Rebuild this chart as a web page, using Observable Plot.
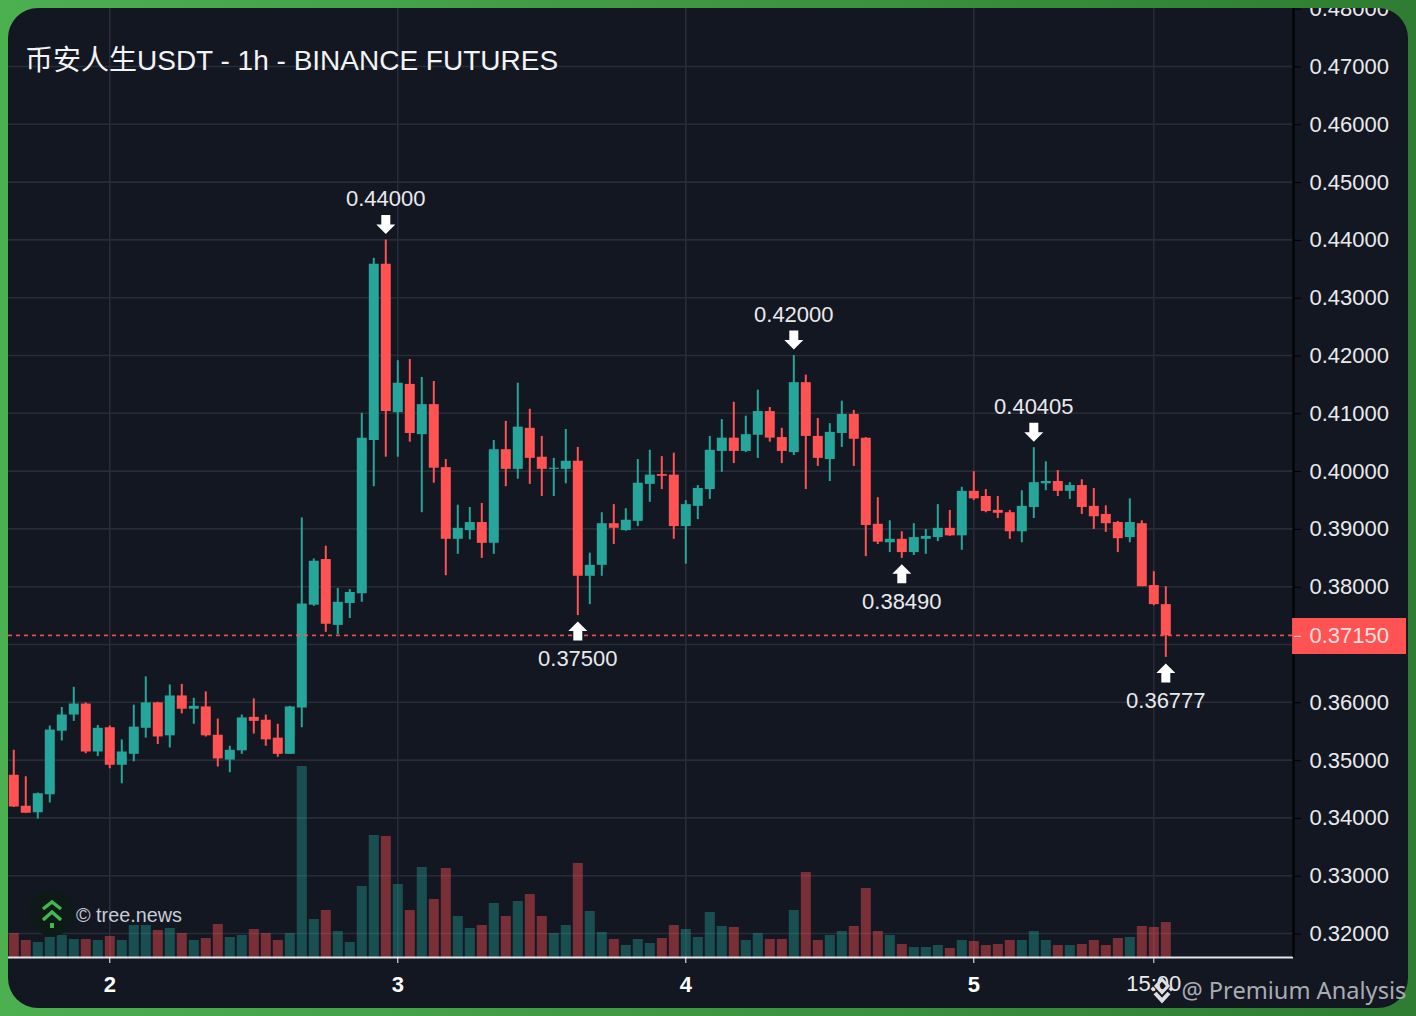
<!DOCTYPE html>
<html>
<head>
<meta charset="utf-8">
<script src="https://cdn.jsdelivr.net/npm/d3@7"></script>
<script src="https://cdn.jsdelivr.net/npm/@observablehq/plot@0.6"></script>
<style>
html,body{margin:0;padding:0;width:1416px;height:1016px;overflow:hidden;background:linear-gradient(90deg,#4caf50 0%,#3f9a43 45%,#2e7d32 100%);}
#card{position:absolute;left:8px;top:8px;width:1400px;height:1000px;background:#131722;border-radius:30px;overflow:hidden;}
#card svg.plot{position:absolute;left:0;top:0;}
.txt{position:absolute;white-space:nowrap;font-family:"Liberation Sans",sans-serif;line-height:1;}
#title{left:25px;top:47px;font-size:28px;color:#f2f3f5;font-family:"Liberation Sans","Noto Sans CJK SC",sans-serif;}
#tree{left:76px;top:906px;font-size:19.8px;color:#c9ccd3;}
#premium{left:1181.5px;top:978.5px;font-size:23.6px;color:#a9acb2;font-family:"Noto Sans",sans-serif;}
#logos{position:absolute;left:0;top:0;}
</style>
</head>
<body>
<div id="card"></div>
<div class="txt" id="title">币安人生USDT - 1h - BINANCE FUTURES</div>
<svg id="logos" width="1416" height="1016">
  <circle cx="52" cy="913" r="23" fill="#0e1a18"/>
  <g fill="none" stroke="#3fb950" stroke-width="3.4">
    <polyline points="43,909 52,902 61,909"/>
    <polyline points="43,920 52,912 61,920"/>
  </g>
  <rect x="50" y="923" width="4" height="5" fill="#3fb950"/>
  <g fill="none" stroke="#dcdee2">
    <polygon points="1162,979.5 1168,986 1162,992.5 1156,986" stroke-width="3"/>
    <polyline points="1155,993 1162,1000.5 1169,993" stroke-width="4"/>
  </g>
  <g fill="#dcdee2">
    <polygon points="1153,986.5 1155.5,989 1153,991.5 1150.5,989"/>
    <polygon points="1171,986.5 1173.5,989 1171,991.5 1168.5,989"/>
  </g>
</svg>
<div class="txt" id="tree">© tree.news</div>
<div class="txt" id="premium">@ Premium Analysis</div>
<script>
const opens = [.3474,.3420,.3409,.3440,.3550,.3578,.3597,.3514,.3556,.3491,.3510,.3555,.3599,.3542,.3611,.3588,.3592,.3543,.3500,.3516,.3574,.3569,.3538,.3510,.3590,.3768,.3847,.3733,.3771,.3788,.4053,.4358,.4101,.4150,.4063,.4115,.4006,.3882,.3897,.3911,.3875,.4037,.4003,.4074,.4024,.4003,.4003,.4017,.3818,.3837,.3909,.3897,.3913,.3977,.3994,.3993,.3904,.3939,.3968,.4034,.4057,.4034,.4062,.4103,.4058,.4032,.4153,.4060,.4020,.4065,.4098,.4057,.3908,.3876,.3882,.3859,.3882,.3885,.3901,.3888,.3965,.3956,.3932,.3928,.3895,.3937,.3978,.3982,.3965,.3975,.3939,.3925,.3911,.3885,.3909,.3802,.3769];
const highs = [.3517,.3471,.3443,.3559,.3591,.3626,.3599,.3560,.3559,.3535,.3595,.3644,.3600,.3630,.3631,.3607,.3618,.3571,.3524,.3578,.3606,.3578,.3562,.3593,.3919,.3848,.3870,.3797,.3795,.4100,.4368,.4400,.4191,.4193,.4162,.4155,.4020,.3941,.3937,.3944,.4053,.4086,.4152,.4107,.4060,.4022,.4072,.4041,.3858,.3928,.3942,.3935,.4020,.4036,.4025,.4031,.3949,.3975,.4060,.4089,.4119,.4095,.4140,.4110,.4074,.4200,.4166,.4091,.4082,.4121,.4105,.4058,.3954,.3914,.3895,.3909,.3899,.3942,.3932,.3972,.3999,.3968,.3956,.3932,.3966,.40405,.4016,.4001,.3980,.3985,.3970,.3940,.3913,.3952,.3914,.3826,.3800];
const lows = [.3418,.3408,.3398,.3426,.3533,.3567,.3511,.3506,.3485,.3459,.3497,.3538,.3527,.3521,.3580,.3562,.3540,.3488,.3478,.3510,.3545,.3524,.3505,.3510,.3556,.3766,.3721,.3717,.3745,.3773,.3973,.4024,.4024,.4050,.3928,.3979,.3819,.3856,.3881,.3849,.3856,.3973,.3986,.3977,.3956,.3956,.3978,.3750,.3769,.3818,.3873,.3896,.3904,.3946,.3968,.3882,.3839,.3916,.3951,.3998,.4013,.4032,.4022,.4050,.4013,.4027,.3968,.4008,.3982,.4041,.4008,.3852,.3873,.3859,.3849,.3854,.3856,.3878,.3887,.3863,.3949,.3928,.3918,.3882,.3876,.3918,.3966,.3956,.3951,.3925,.3899,.3894,.3859,.3876,.3800,.3767,.36777];
const closes = [.3419,.3408,.3442,.3552,.3578,.3597,.3514,.3555,.3491,.3514,.3557,.3599,.3540,.3611,.3588,.3593,.3542,.3502,.3517,.3573,.3567,.3535,.3510,.3592,.3770,.3844,.3735,.3773,.3790,.4057,.4358,.4103,.4152,.4065,.4115,.4005,.3882,.3901,.3911,.3875,.4037,.4003,.4076,.4022,.4003,.4005,.4017,.3818,.3837,.3909,.3901,.3915,.3979,.3993,.3991,.3904,.3942,.3970,.4036,.4057,.4034,.4063,.4103,.4057,.4034,.4153,.4060,.4022,.4067,.4098,.4055,.3906,.3877,.3882,.3859,.3885,.3887,.3901,.3888,.3965,.3952,.3930,.3927,.3895,.3939,.3980,.3982,.3965,.3975,.3937,.3921,.3909,.3883,.3911,.3800,.3769,.3715];
const volumes = [24,17,15,20,22,18,18,17,21,17,32,32,27,29,24,17,19,33,20,22,28,24,17,24,191,38,47,26,15,71,122,121,73,47,90,58,89,41,29,32,54,41,56,63,41,24,32,94,46,25,18,12,18,14,19,32,28,20,45,31,30,17,24,18,18,47,85,17,22,26,31,69,26,22,13,10,10,12,9,17,16,12,13,17,17,26,17,12,12,13,17,12,19,20,31,30,35];
const priceTicks = [.32,.33,.34,.35,.36,.37,.38,.39,.40,.41,.42,.43,.44,.45,.46,.47,.48];
const priceLabelTicks = priceTicks.filter(p => p !== .37);
const dayTicks = [8,32,56,80];
const dayLabels = ["2","3","4","5"];
const timeTick = [95];
const timeLabel = "15:00";
const lastPrice = 0.3715;
const peaks = [[31,.44],[65,.42],[85,.40405]];
const troughs = [[47,.375],[74,.3849],[96,.36777]];

const UP = "#26a69a", DOWN = "#ff5252", GRID = "#282c37", TEXT = "#e9eaec";
const yMin = 0.31585, yMax = 0.48003, xMin = -0.44, xMax = 106.64, volumeUnit = 1 / 5780;
const candles = opens.map((o, i) => ({
  i, o, h: highs[i], l: lows[i], c: closes[i], v: volumes[i],
  col: closes[i] >= o ? UP : DOWN
}));
const peakRows = peaks.map(([i, p]) => ({i, p}));
const troughRows = troughs.map(([i, p]) => ({i, p}));

function arrow(dir) {
  return {draw(ctx) {
    const s = dir;
    ctx.moveTo(0, -9.5 * s);
    ctx.lineTo(9.5, 0);
    ctx.lineTo(4.5, 0);
    ctx.lineTo(4.5, 9.5 * s);
    ctx.lineTo(-4.5, 9.5 * s);
    ctx.lineTo(-4.5, 0);
    ctx.lineTo(-9.5, 0);
    ctx.closePath();
  }};
}

const chart = Plot.plot({
  width: 1400, height: 1000,
  marginLeft: 0, marginRight: 115, marginTop: 0, marginBottom: 51,
  style: {background: "transparent", color: TEXT, fontFamily: "Liberation Sans, sans-serif", fontSize: "22px"},
  x: {type: "linear", domain: [xMin, xMax], label: null},
  y: {type: "linear", domain: [yMin, yMax], label: null},
  color: {type: "identity"},
  marks: [
    Plot.ruleY(priceTicks.slice(0, -1), {stroke: GRID, strokeWidth: 1.6}),
    Plot.ruleX(dayTicks.concat(timeTick), {stroke: GRID, strokeWidth: 1.6}),
    Plot.ruleX(candles, {filter: d => d.col === UP, x: "i", y1: yMin, y2: d => yMin + d.v * volumeUnit, stroke: UP, strokeWidth: 10, strokeOpacity: 0.4}),
    Plot.ruleX(candles, {filter: d => d.col === DOWN, x: "i", y1: yMin, y2: d => yMin + d.v * volumeUnit, stroke: DOWN, strokeWidth: 10, strokeOpacity: 0.43}),
    Plot.ruleX(candles, {x: "i", y1: "l", y2: "h", stroke: "col", strokeWidth: 2}),
    Plot.ruleX(candles, {x: "i", y1: "o", y2: "c", stroke: "col", strokeWidth: 10}),
    Plot.ruleY([lastPrice], {stroke: DOWN, strokeWidth: 1.8, strokeDasharray: "4,4", strokeOpacity: 0.9, dy: -0.5}),
    Plot.ruleY([yMin], {stroke: "#e4e5e8", strokeWidth: 2}),
    Plot.ruleX([xMax], {stroke: "#000", strokeWidth: 2}),
    Plot.rect([lastPrice], {x1: 106.56, x2: 116.06, y1: 0.36827, y2: 0.3745, fill: DOWN}),
    Plot.axisY({anchor: "right", ticks: priceLabelTicks, tickFormat: d => d.toFixed(5), tickSize: 7, tickPadding: 9, color: TEXT, stroke: "#000", label: null, dy: 0.5}),
    Plot.axisY({anchor: "right", ticks: [lastPrice], tickFormat: d => d.toFixed(5), tickSize: 7, tickPadding: 9, color: "#ffe0e0", stroke: "#ffe0e0", label: null, dy: 0.5}),
    Plot.axisX({ticks: dayTicks, tickFormat: d => dayLabels[dayTicks.indexOf(d)], tickSize: 6, tickPadding: 13, color: "#ffffff", fontWeight: "bold", label: null}),
    Plot.axisX({ticks: timeTick, tickFormat: () => timeLabel, tickSize: 6, tickPadding: 12, color: TEXT, label: null}),
    Plot.dot(peakRows, {x: "i", y: "p", dy: -15.5, r: 5, symbol: arrow(-1), fill: "#fff", stroke: "none"}),
    Plot.dot(troughRows, {x: "i", y: "p", dy: 15.5, r: 5, symbol: arrow(1), fill: "#fff", stroke: "none"}),
    Plot.text(peakRows, {x: "i", y: "p", dy: -41, text: d => d.p.toFixed(5), fill: TEXT}),
    Plot.text(troughRows, {x: "i", y: "p", dy: 43.5, text: d => d.p.toFixed(5), fill: TEXT})
  ]
});
chart.classList.add("plot");
document.getElementById("card").appendChild(chart);
</script>
</body>
</html>
